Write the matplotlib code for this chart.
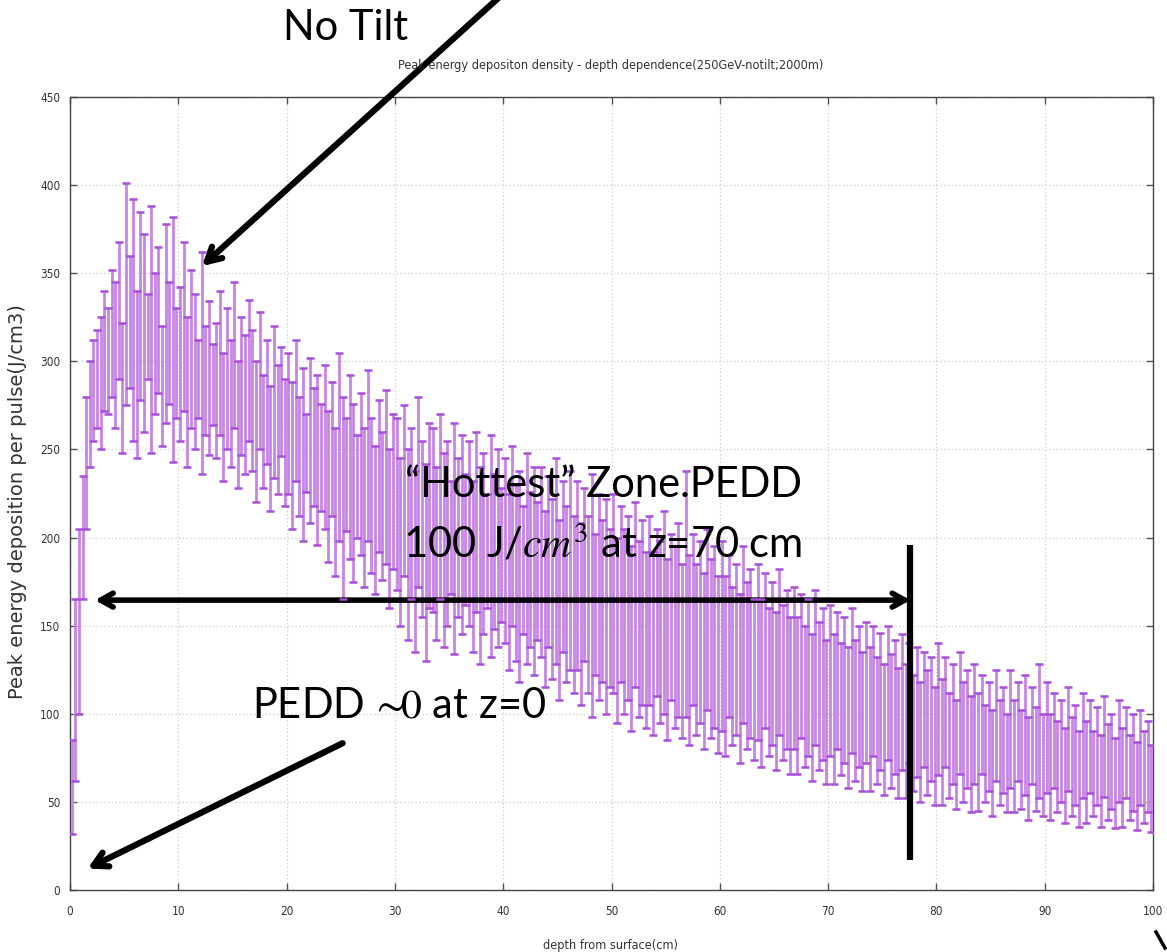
import numpy as np
import matplotlib
matplotlib.use("Agg")
import matplotlib.pyplot as plt
from matplotlib.lines import Line2D

# ---------------- data ----------------
bin_width_cm = 1.0 / 3.0          # depth bin width
n_bins = 300

pedd_low = [
    32, 62, 100, 165, 205, 240, 255, 262, 250, 272,
    270, 280, 262, 290, 248, 275, 285, 255, 245, 278,
    260, 290, 248, 270, 282, 252, 265, 276, 243, 268,
    255, 272, 240, 262, 250, 268, 236, 258, 247, 264,
    245, 258, 232, 250, 240, 262, 228, 247, 236, 255,
    238, 220, 250, 228, 242, 215, 234, 225, 246, 218,
    225, 205, 232, 212, 198, 226, 208, 218, 196, 215,
    205, 186, 212, 178, 198, 165, 204, 188, 175, 200,
    190, 172, 198, 180, 168, 192, 176, 185, 160, 182,
    170, 150, 178, 142, 165, 135, 172, 155, 130, 160,
    158, 142, 165, 138, 150, 168, 134, 155, 145, 162,
    150, 135, 158, 128, 145, 160, 132, 148, 138, 152,
    140, 125, 150, 130, 118, 145, 128, 138, 122, 142,
    132, 115, 138, 120, 128, 108, 135, 118, 125, 112,
    125, 105, 130, 112, 98, 122, 108, 118, 100, 115,
    112, 95, 118, 100, 108, 90, 115, 98, 105, 92,
    105, 88, 110, 95, 100, 85, 108, 92, 98, 86,
    98, 82, 105, 88, 95, 80, 102, 86, 92, 78,
    90, 76, 98, 82, 88, 72, 95, 80, 86, 74,
    85, 70, 92, 76, 82, 68, 88, 74, 80, 66,
    80, 66, 86, 70, 76, 62, 82, 68, 74, 60,
    76, 60, 80, 65, 72, 58, 78, 62, 70, 56,
    72, 56, 76, 60, 68, 54, 74, 58, 66, 52,
    68, 52, 72, 56, 64, 50, 70, 54, 62, 48,
    65, 48, 70, 52, 60, 46, 66, 50, 58, 44,
    60, 45, 66, 50, 56, 42, 62, 48, 55, 44,
    58, 44, 62, 46, 54, 40, 60, 45, 52, 42,
    55, 40, 58, 44, 50, 38, 56, 42, 48, 36,
    52, 38, 55, 42, 48, 36, 53, 40, 46, 35,
    50, 36, 52, 40, 45, 34, 48, 38, 44, 33,
]
pedd_high = [
    85, 165, 205, 235, 280, 300, 312, 318, 325, 340,
    330, 352, 345, 368, 322, 401, 360, 392, 340, 385,
    372, 338, 388, 350, 365, 320, 378, 345, 382, 330,
    342, 368, 325, 352, 338, 312, 362, 320, 334, 310,
    322, 340, 305, 330, 312, 345, 300, 325, 315, 335,
    318, 300, 328, 292, 312, 286, 320, 298, 308, 290,
    305, 288, 312, 280, 296, 270, 302, 285, 292, 276,
    298, 272, 288, 262, 305, 280, 268, 292, 276, 258,
    282, 262, 295, 268, 252, 278, 260, 284, 250, 270,
    268, 245, 275, 250, 262, 238, 280, 255, 242, 265,
    262, 240, 270, 248, 255, 232, 265, 245, 258, 236,
    255, 232, 260, 240, 248, 225, 258, 236, 250, 228,
    245, 225, 252, 230, 238, 218, 248, 226, 240, 220,
    240, 215, 235, 222, 245, 210, 232, 218, 238, 212,
    232, 208, 228, 212, 236, 202, 225, 210, 222, 205,
    225, 200, 218, 205, 212, 195, 220, 198, 210, 192,
    212, 192, 205, 198, 215, 188, 202, 195, 208, 185,
    238, 190, 202, 185, 198, 180, 205, 188, 195, 178,
    198, 178, 190, 172, 185, 168, 195, 175, 182, 165,
    185, 165, 180, 160, 175, 158, 182, 162, 170, 155,
    172, 155, 168, 150, 165, 145, 170, 152, 160, 142,
    162, 145, 158, 140, 155, 138, 160, 142, 150, 135,
    152, 138, 150, 132, 146, 128, 150, 134, 142, 126,
    145, 128, 140, 122, 138, 118, 135, 125, 132, 115,
    140, 120, 132, 112, 128, 108, 135, 118, 125, 110,
    128, 112, 122, 105, 118, 102, 125, 108, 115, 100,
    125, 108, 118, 102, 122, 98, 115, 104, 128, 100,
    118, 100, 112, 96, 108, 92, 115, 98, 105, 90,
    112, 96, 108, 90, 104, 88, 110, 94, 100, 86,
    108, 92, 104, 88, 100, 84, 102, 90, 96, 82,
]

x_ticks = [0, 10, 20, 30, 40, 50, 60, 70, 80, 90, 100]
y_ticks = [0, 50, 100, 150, 200, 250, 300, 350, 400, 450]

title_text = "Peak energy depositon density - depth dependence(250GeV-notilt;2000m)"
xlabel_text = "depth from surface(cm)"
ylabel_text = "Peak energy deposition per pulse(J/cm3)"

# ---------------- figure ----------------
plt.rcParams["mathtext.fontset"] = "stix"
W, H = 1167, 952
fig = plt.figure(figsize=(W / 100, H / 100), dpi=100)
ax = fig.add_axes([70 / W, (H - 890) / H, (1153 - 70) / W, (890 - 97) / H])

depth = (np.arange(n_bins) + 0.5) * bin_width_cm
lo = np.array(pedd_low, dtype=float)
hi = np.array(pedd_high, dtype=float)

bar_color = "#c884e6"
cap_color = "#a64fd8"
ax.vlines(depth, lo, hi, color=bar_color, lw=2.0, zorder=3)
ax.plot(depth, lo, ls="none", marker="_", ms=6, mew=1.8, color=cap_color, zorder=4)
ax.plot(depth, hi, ls="none", marker="_", ms=6, mew=1.8, color=cap_color, zorder=4)

ax.set_xlim(0, 100)
ax.set_ylim(0, 450)
ax.set_xticks(x_ticks)
ax.set_yticks(y_ticks)
tick_font = dict(family="DejaVu Sans", stretch="condensed", size=8.5)
ax.set_xticklabels([str(t) for t in x_ticks], **tick_font, color="#333333")
ax.set_yticklabels([str(t) for t in y_ticks], **tick_font, color="#333333")
ax.tick_params(direction="in", length=5, width=1, color="#555555",
               top=True, right=True)
ax.tick_params(axis="x", pad=11)
ax.tick_params(axis="y", pad=7)
ax.grid(True, ls=(0, (1, 2)), color="#cccccc", lw=0.9)
for s in ax.spines.values():
    s.set_color("#444444")
    s.set_linewidth(1.0)

fig.text(611 / W, 1 - 66 / H, title_text, ha="center", va="center",
         family="DejaVu Sans", stretch="condensed", size=9.1, color="#333333")
fig.text(610 / W, 1 - 946 / H, xlabel_text, ha="center", va="center",
         family="DejaVu Sans", stretch="condensed", size=9.1, color="#333333")
fig.text(18 / W, 1 - 502 / H, ylabel_text, ha="center", va="center",
         rotation=90, family="DejaVu Sans", size=14, color="#333333")

# ---------------- annotations ----------------
big = dict(family="Lato", size=30, color="black", va="baseline", ha="left")
fig.text(283 / W, 1 - 40 / H, "No Tilt", **big)
fig.text(405 / W, 1 - 497 / H, "\u201cHottest\u201d Zone.PEDD", **big)
fig.text(403 / W, 1 - 557 / H, "100 J/$cm^3$ at z=70 cm", **big)
fig.text(252 / W, 1 - 717 / H, "PEDD $\\!\\sim\\!\\!0$ at z=0", **big)

head = "->,head_length=1.0,head_width=0.55"
# No Tilt arrow
ax.annotate("", xy=(12.0, 353), xytext=(40.6, 512),
            arrowprops=dict(arrowstyle=head, lw=4.5, color="black"),
            annotation_clip=False)
# PEDD ~0 arrow
ax.annotate("", xy=(1.4, 11.5), xytext=(25.4, 84),
            arrowprops=dict(arrowstyle=head, lw=4.5, color="black"),
            annotation_clip=False)
# hottest zone double arrow
ax.annotate("", xy=(2.3, 164.5), xytext=(77.6, 164.5),
            arrowprops=dict(arrowstyle="<->,head_length=0.9,head_width=0.5", lw=4, color="black",
                            shrinkA=0, shrinkB=0),
            annotation_clip=False)
ax.plot([77.6, 77.6], [17, 196], color="black", lw=4.5, solid_capstyle="butt", zorder=6)

fig.add_artist(Line2D([1156 / W, 1165 / W], [1 - 932 / H, 1 - 948 / H],
                      color="black", lw=2.5))

fig.savefig("out.png", dpi=100)
